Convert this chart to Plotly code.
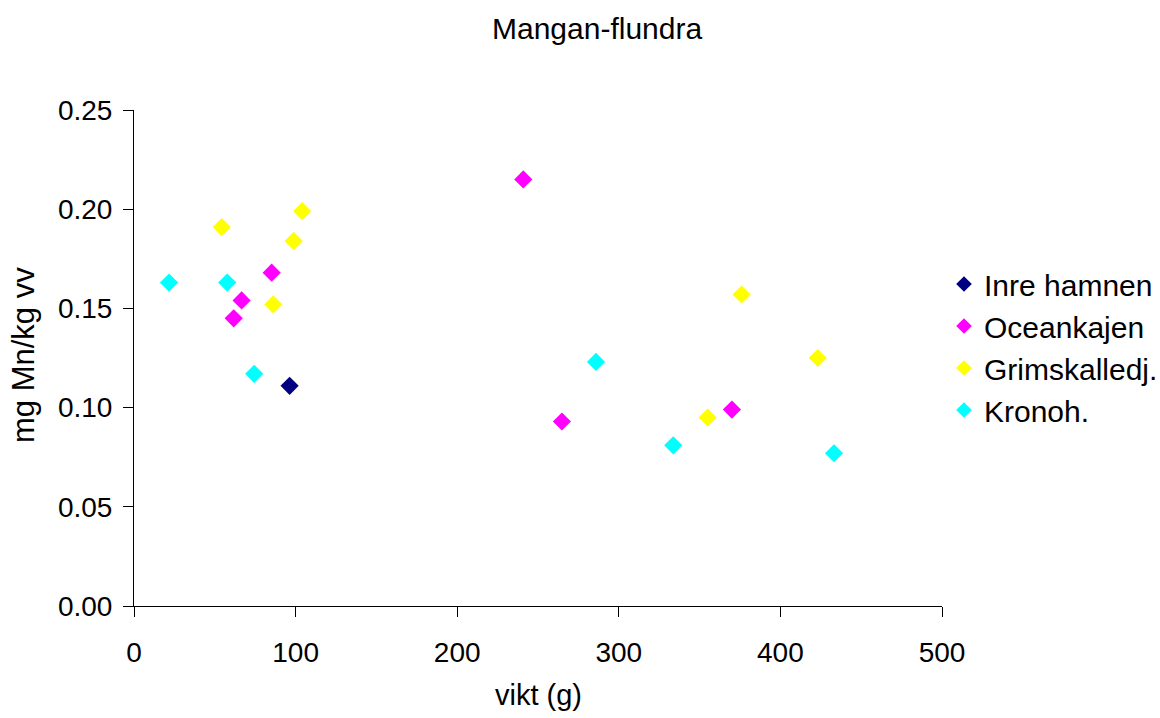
import plotly.graph_objects as go

series_names = ["Inre hamnen", "Oceankajen", "Grimskalledj.", "Kronoh."]
colors = ["#000080", "#FF00FF", "#FFFF00", "#00FFFF"]

inre_x = [96.3]
inre_y = [0.111]

ocean_x = [240.9, 85.2, 66.6, 61.7, 264.8, 370.0]
ocean_y = [0.215, 0.168, 0.154, 0.145, 0.093, 0.099]

grim_x = [104.1, 54.3, 98.8, 86.2, 376.0, 423.1, 355.0]
grim_y = [0.199, 0.191, 0.184, 0.152, 0.157, 0.125, 0.095]

krono_x = [21.7, 57.7, 74.4, 285.9, 333.7, 433.2]
krono_y = [0.163, 0.163, 0.117, 0.123, 0.081, 0.077]

xs = [inre_x, ocean_x, grim_x, krono_x]
ys = [inre_y, ocean_y, grim_y, krono_y]

FONT = "Liberation Sans, Arial, sans-serif"

fig = go.Figure()
for name, c, x, y in zip(series_names, colors, xs, ys):
    fig.add_trace(go.Scatter(
        x=x, y=y, mode="markers", name=name,
        marker=dict(symbol="diamond", size=14, color=c, line=dict(width=0)),
    ))

L, R, T, B = 134, 218, 110, 112
PW = 1160 - L - R
PH = 718 - T - B

fig.update_layout(
    width=1160, height=718,
    margin=dict(l=L, r=R, t=T, b=B, pad=0, autoexpand=False),
    paper_bgcolor="white", plot_bgcolor="white",
    font=dict(family=FONT, size=28, color="black"),
    showlegend=True,
    legend=dict(
        xref="container", yref="container",
        x=944 / 1160, y=1 - 347 / 718, xanchor="left", yanchor="middle",
        font=dict(size=30, color="black"), bgcolor="rgba(0,0,0,0)",
        itemsizing="constant", tracegroupgap=0,
    ),
    annotations=[
        dict(text="Mangan-flundra", xref="paper", yref="paper",
             x=(597 - L) / PW, y=(606 - 29) / PH, xanchor="center", yanchor="middle",
             showarrow=False, font=dict(size=30)),
        dict(text="vikt (g)", xref="paper", yref="paper",
             x=0.5, y=(606 - 695) / PH, xanchor="center", yanchor="middle",
             showarrow=False, font=dict(size=29)),
        dict(text="mg Mn/kg vv", xref="paper", yref="paper",
             x=(23 - L) / PW, y=(606 - 355) / PH, xanchor="center", yanchor="middle",
             textangle=-90, showarrow=False, font=dict(size=31)),
    ],
)

fig.update_xaxes(
    range=[0, 500], dtick=100, tick0=0, showgrid=False, zeroline=False,
    showline=True, linecolor="black", linewidth=1,
    ticks="outside", ticklen=10, tickcolor="black", tickwidth=1,
    tickfont=dict(size=28), ticklabelstandoff=11,
)
fig.update_yaxes(
    range=[0, 0.25], dtick=0.05, tick0=0, tickformat=".2f", showgrid=False, zeroline=False,
    showline=True, linecolor="black", linewidth=1,
    ticks="outside", ticklen=10, tickcolor="black", tickwidth=1,
    tickfont=dict(size=28), ticklabelstandoff=5,
)

fig.write_html("out.html")
